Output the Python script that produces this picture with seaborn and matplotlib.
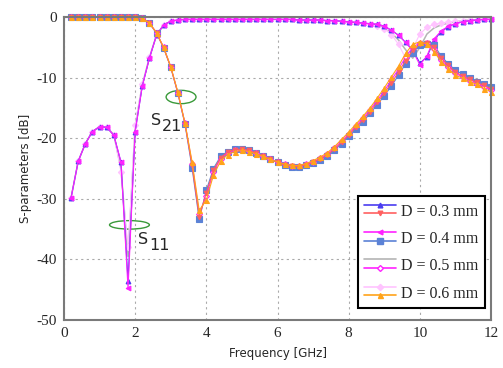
import numpy as np
import pandas as pd
import matplotlib
matplotlib.use('Agg')
import matplotlib.pyplot as plt
import seaborn as sns
from matplotlib.patches import Ellipse
from matplotlib.lines import Line2D
from matplotlib.legend_handler import HandlerBase

# frequency grid [GHz]
freq = [0.2, 0.4, 0.6, 0.8, 1.0, 1.2, 1.4, 1.6, 1.8, 2.0,
        2.2, 2.4, 2.6, 2.8, 3.0, 3.2, 3.4, 3.6, 3.8, 4.0,
        4.2, 4.4, 4.6, 4.8, 5.0, 5.2, 5.4, 5.6, 5.8, 6.0,
        6.2, 6.4, 6.6, 6.8, 7.0, 7.2, 7.4, 7.6, 7.8, 8.0,
        8.2, 8.4, 8.6, 8.8, 9.0, 9.2, 9.4, 9.6, 9.8, 10.0,
        10.2, 10.4, 10.6, 10.8, 11.0, 11.2, 11.4, 11.6, 11.8, 12.0]

# S11 [dB]
s11_d03 = [-29.8, -23.8, -20.9, -18.9, -18.1, -18.2, -19.5, -23.9, -43.5, -18.9,
           -11.4, -6.8, -3.0, -1.3, -0.7, -0.5, -0.4, -0.4, -0.4, -0.4,
           -0.4, -0.4, -0.4, -0.4, -0.4, -0.4, -0.4, -0.4, -0.4, -0.4,
           -0.4, -0.4, -0.5, -0.5, -0.5, -0.5, -0.6, -0.6, -0.7, -0.8,
           -0.9, -1.0, -1.1, -1.2, -1.5, -2.2, -3.0, -4.2, -5.4, -7.6,
           -6.6, -3.8, -2.4, -1.6, -1.1, -0.8, -0.6, -0.5, -0.4, -0.4]
s11_d04 = [-29.8, -23.8, -20.9, -18.9, -18.1, -18.2, -19.5, -23.9, -44.8, -18.9,
           -11.4, -6.8, -3.0, -1.3, -0.7, -0.5, -0.4, -0.4, -0.4, -0.4,
           -0.4, -0.4, -0.4, -0.4, -0.4, -0.4, -0.4, -0.4, -0.4, -0.4,
           -0.4, -0.4, -0.5, -0.5, -0.5, -0.5, -0.6, -0.6, -0.7, -0.8,
           -0.9, -1.0, -1.1, -1.2, -1.5, -2.2, -3.0, -4.2, -5.6, -7.9,
           -6.4, -3.6, -2.3, -1.5, -1.1, -0.8, -0.6, -0.5, -0.4, -0.4]
s11_d05 = [-29.8, -23.8, -20.9, -18.9, -18.1, -18.2, -19.4, -25.0, -39.5, -18.0,
           -11.2, -6.7, -3.0, -1.3, -0.7, -0.5, -0.4, -0.4, -0.4, -0.4,
           -0.4, -0.4, -0.4, -0.4, -0.4, -0.4, -0.4, -0.4, -0.4, -0.4,
           -0.4, -0.4, -0.5, -0.5, -0.5, -0.5, -0.6, -0.6, -0.7, -0.8,
           -0.9, -1.0, -1.2, -1.4, -1.8, -2.6, -3.8, -5.4, -6.8, -5.0,
           -2.8, -1.8, -1.3, -1.0, -0.8, -0.6, -0.5, -0.5, -0.4, -0.4]
s11_d06 = [-29.8, -23.8, -20.9, -18.9, -18.1, -18.2, -19.4, -25.5, -38.0, -17.8,
           -11.1, -6.6, -3.0, -1.3, -0.7, -0.5, -0.4, -0.4, -0.4, -0.4,
           -0.4, -0.4, -0.4, -0.4, -0.4, -0.4, -0.4, -0.4, -0.4, -0.4,
           -0.4, -0.4, -0.5, -0.5, -0.5, -0.5, -0.6, -0.6, -0.7, -0.8,
           -0.9, -1.0, -1.2, -1.5, -1.9, -2.9, -4.5, -6.8, -5.2, -2.8,
           -1.7, -1.2, -1.0, -0.8, -0.7, -0.6, -0.5, -0.5, -0.4, -0.4]

# S21 [dB]
s21_d03 = [0.0, 0.0, 0.0, 0.0, 0.0, 0.0, 0.0, 0.0, 0.0, 0.0,
           -0.2, -1.0, -2.6, -5.1, -8.3, -12.5, -17.6, -24.5, -33.0, -29.0,
           -25.3, -23.2, -22.3, -21.9, -21.8, -22.0, -22.5, -23.0, -23.5, -24.0,
           -24.4, -24.6, -24.7, -24.4, -24.0, -23.4, -22.8, -21.8, -20.7, -19.5,
           -18.2, -17.0, -15.6, -14.1, -12.6, -10.9, -9.1, -7.2, -5.5, -4.5,
           -4.3, -5.0, -6.8, -8.0, -9.1, -9.7, -10.3, -10.8, -11.3, -11.8]
s21_d04 = [0.0, 0.0, 0.0, 0.0, 0.0, 0.0, 0.0, 0.0, 0.0, 0.0,
           -0.2, -1.0, -2.7, -5.1, -8.3, -12.6, -17.7, -24.9, -33.4, -28.6,
           -25.0, -23.0, -22.2, -21.8, -21.7, -22.0, -22.5, -23.0, -23.5, -24.0,
           -24.5, -24.7, -24.8, -24.5, -24.1, -23.6, -23.0, -22.0, -20.9, -19.7,
           -18.4, -17.3, -15.9, -14.5, -13.0, -11.4, -9.6, -7.7, -5.9, -4.6,
           -4.4, -4.6, -6.5, -7.7, -8.8, -9.4, -10.1, -10.7, -11.1, -11.5]
s21_d05 = [0.0, 0.0, 0.0, 0.0, 0.0, 0.0, 0.0, 0.0, 0.0, 0.0,
           -0.2, -1.0, -2.6, -5.0, -8.2, -12.5, -17.5, -24.2, -32.5, -29.5,
           -25.6, -23.4, -22.4, -22.0, -21.9, -22.1, -22.5, -23.0, -23.5, -23.9,
           -24.3, -24.6, -24.6, -24.3, -23.9, -23.3, -22.6, -21.6, -20.5, -19.3,
           -18.0, -16.7, -15.3, -13.8, -12.2, -10.4, -8.6, -6.6, -5.0, -4.3,
           -4.3, -5.3, -7.1, -8.2, -9.3, -9.9, -10.5, -11.0, -11.5, -12.0]
s21_d06 = [0.0, 0.0, 0.0, 0.0, 0.0, 0.0, 0.0, 0.0, 0.0, 0.0,
           -0.2, -1.0, -2.6, -5.0, -8.2, -12.4, -17.5, -23.9, -31.9, -30.2,
           -26.1, -23.8, -22.7, -22.2, -22.0, -22.2, -22.6, -23.0, -23.5, -23.9,
           -24.3, -24.5, -24.5, -24.2, -23.7, -23.1, -22.4, -21.4, -20.2, -19.0,
           -17.7, -16.4, -15.0, -13.4, -11.7, -9.9, -8.1, -6.0, -4.5, -4.1,
           -4.4, -5.7, -7.4, -8.5, -9.6, -10.1, -10.7, -11.1, -11.8, -12.3]

labels = ['D = 0.3 mm', 'D = 0.4 mm', 'D = 0.5 mm', 'D = 0.6 mm']


class PairHandler(HandlerBase):
    # two short lines stacked above each other for one legend label
    def create_artists(self, legend, orig_handle, xdescent, ydescent,
                       width, height, fontsize, trans):
        out = []
        ymid = (height - ydescent) / 2
        for h, dy in zip(orig_handle, (3.0, -3.0)):
            y = ymid + dy
            out.append(Line2D([-xdescent, -xdescent + width], [y, y],
                              color=h.get_color(), lw=1.2,
                              transform=trans))
            if h.get_marker() not in (None, 'None', ''):
                out.append(Line2D([-xdescent + width / 2], [y],
                                  marker=h.get_marker(), ms=h.get_markersize(),
                                  mfc=h.get_markerfacecolor(),
                                  mec=h.get_markeredgecolor(), ls='none',
                                  transform=trans))
        return out


sns.set_style('white')
plt.rcParams['font.family'] = ['DejaVu Sans']
plt.rcParams['axes.unicode_minus'] = False

fig = plt.figure(figsize=(5.03, 3.68), dpi=100)
ax = fig.add_axes([0.1272, 0.1304, 0.849, 0.8234])


def draw(vals, color, marker, ms=3.5, mfc=None, lw=0.8):
    sns.lineplot(x=freq, y=vals, ax=ax, color=color, marker=marker,
                 markersize=ms, linewidth=lw,
                 markerfacecolor=mfc if mfc else color,
                 markeredgecolor=color, markeredgewidth=0.8,
                 clip_on=False, legend=False)
    return ax.lines[-1]


l11_5 = draw(s11_d05, '#b4b4b4', '', lw=1.1)
l11_6 = draw(s11_d06, '#ffc4ff', 'D', ms=3.2)
l11_3 = draw(s11_d03, '#4a3cf0', '^', ms=3.4)
l11_4 = draw(s11_d04, '#ff22ff', '<', ms=3.4)
l21_4 = draw(s21_d04, '#5b82d6', 's', ms=3.8)
l21_5 = draw(s21_d05, '#ff22ff', 'D', ms=3.0, mfc='white')
l21_3 = draw(s21_d03, '#ff6060', 'v', ms=3.3)
l21_6 = draw(s21_d06, '#ffa31a', '^', ms=3.6)

ax.set_xlim(0, 12)
ax.set_ylim(-50, 0)
ax.set_xticks([0, 2, 4, 6, 8, 10, 12])
ax.set_yticks([0, -10, -20, -30, -40, -50])
ax.grid(True, color='#aaaaaa', linestyle=(0, (2, 3)), linewidth=0.8)
for s in ax.spines.values():
    s.set_color('#7a7a7a')
    s.set_linewidth(1.5)
ax.tick_params(direction='in', length=3, color='#999999', pad=5)
for t in ax.get_xticklabels() + ax.get_yticklabels():
    t.set_fontfamily('Liberation Serif')
    t.set_fontsize(11)

ax.set_xlabel('Frequency [GHz]', fontsize=8.5, labelpad=5)
ax.set_ylabel('S-parameters [dB]', fontsize=8.5, labelpad=3)

# green ellipses and S labels
ax.add_patch(Ellipse((3.29, -13.2), 0.84, 2.2, fill=False, color='#3a9a3a', lw=1))
ax.add_patch(Ellipse((1.84, -34.3), 1.12, 1.4, fill=False, color='#3a9a3a', lw=1))
ax.text(2.45, -17.8, 'S', fontsize=11.5, va='baseline')
ax.text(2.76, -18.8, '21', fontsize=11.5, va='baseline')
ax.text(2.08, -37.5, 'S', fontsize=11.5, va='baseline')
ax.text(2.39, -38.4, '11', fontsize=11.5, va='baseline')

leg = ax.legend(handles=[(l11_3, l21_3), (l11_4, l21_4), (l11_5, l21_5), (l11_6, l21_6)],
                labels=labels, handler_map={tuple: PairHandler()},
                loc='lower right', bbox_to_anchor=(0.985, 0.04), borderaxespad=0,
                prop={'family': 'Liberation Serif', 'size': 11.5},
                fancybox=False, framealpha=1, edgecolor='black',
                handlelength=2.0, handleheight=1.2, labelspacing=0.6,
                handletextpad=0.3, borderpad=0.4)
leg.get_frame().set_linewidth(1.5)

fig.savefig('out.png', dpi=100)
